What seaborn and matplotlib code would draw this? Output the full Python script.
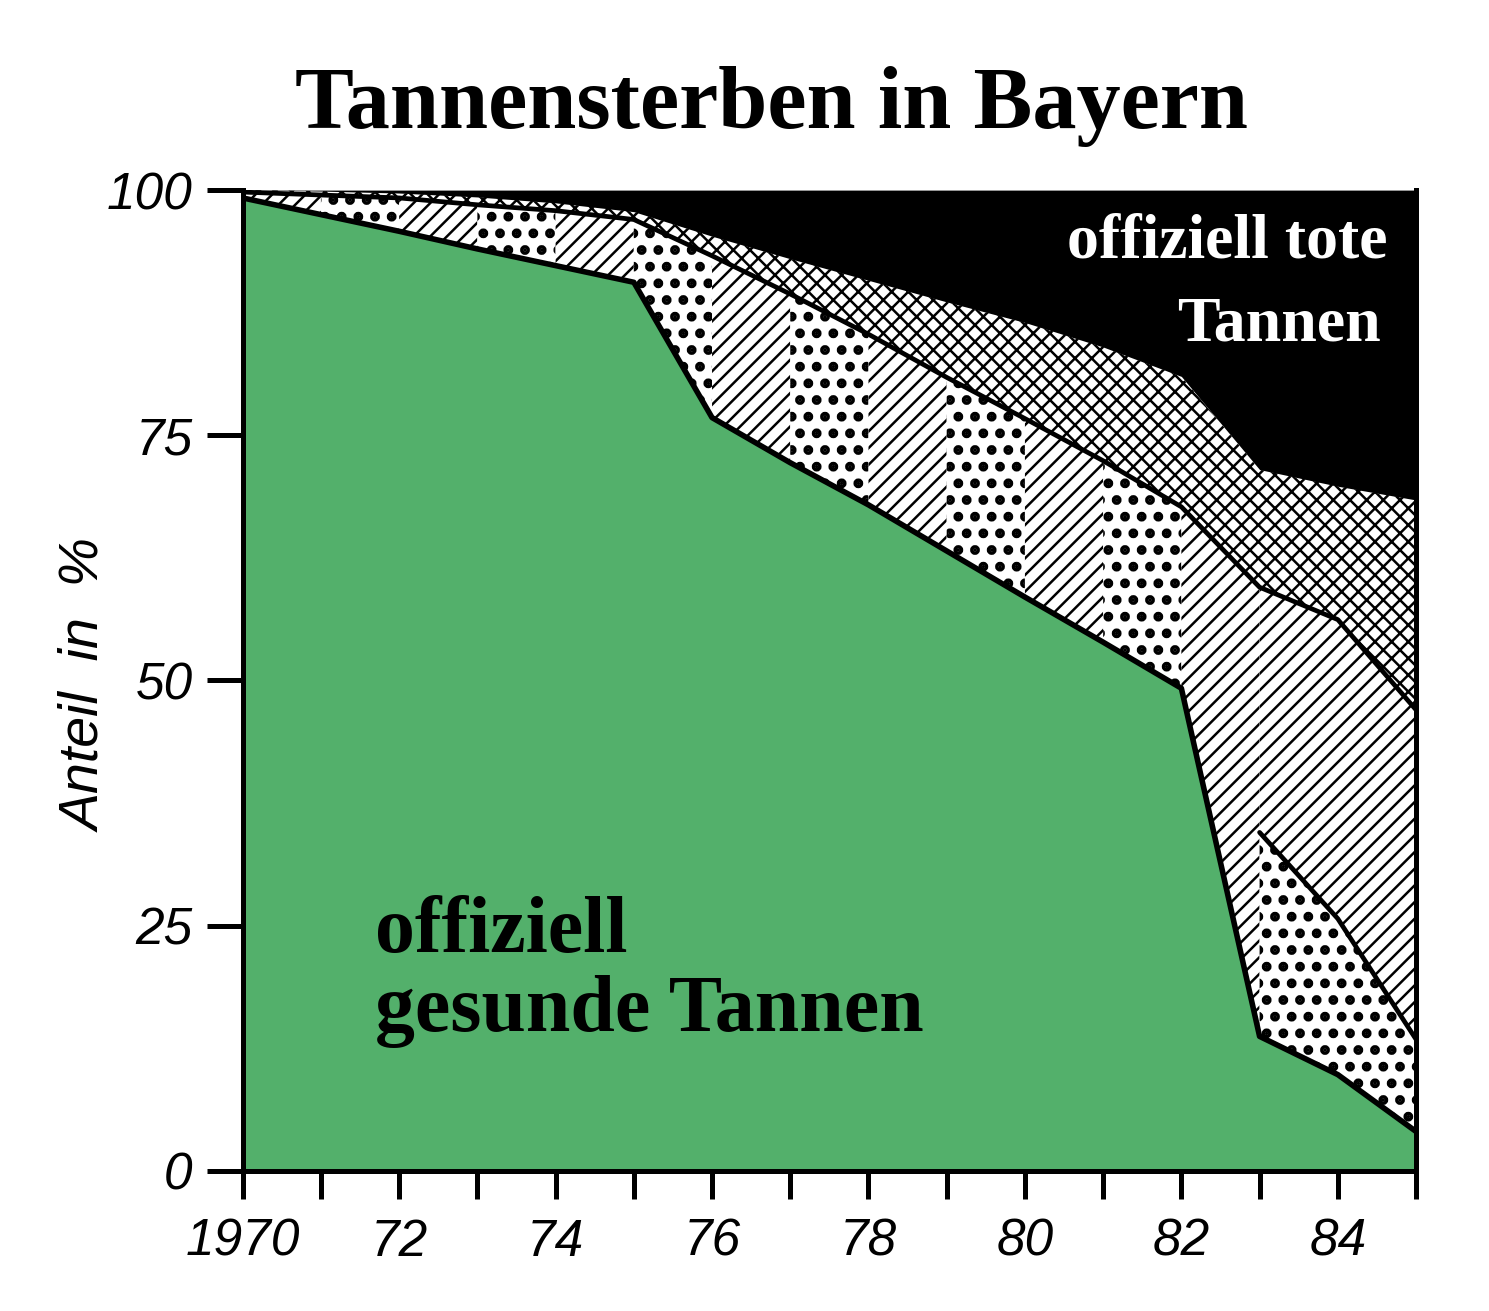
import matplotlib
matplotlib.use("Agg")
import matplotlib.pyplot as plt
import seaborn as sns

# ---------------- data ----------------
jahre = [1970, 1971, 1972, 1973, 1974, 1975, 1976, 1977,
         1978, 1979, 1980, 1981, 1982, 1983, 1984, 1985]
# upper edge of "offiziell gesunde Tannen" (%)
gesund = [99.2, 97.5, 95.8, 94.0, 92.3, 90.6, 76.8, 72.2,
          67.9, 63.2, 58.5, 53.9, 49.2, 13.7, 9.8, 4.0]
# upper edge of the dotted / hatched damage band (%)
geschaedigt = [99.8, 99.5, 99.2, 98.5, 97.9, 97.0, 93.3, 89.4,
               85.3, 80.9, 76.7, 72.4, 67.7, 59.5, 56.2, 47.0]
# lower edge of "offiziell tote Tannen" (%)
tot_grenze = [100.0, 99.9, 99.7, 99.3, 98.7, 97.8, 95.3, 93.0,
              90.8, 88.6, 86.5, 84.0, 81.0, 71.5, 69.8, 68.4]
# split line inside the damage band from 1983 on (%)
split_jahre = [1983, 1984, 1985]
schwach = [34.5, 25.7, 13.4]

x_ticks = list(range(1970, 1986))
x_labels = ["1970", "", "72", "", "74", "", "76", "", "78", "", "80", "",
            "82", "", "84", ""]
y_ticks = [0, 25, 50, 75, 100]
y_labels = ["0", "25", "50", "75", "100"]

title = "Tannensterben in Bayern"
txt_tot = ["offiziell tote", "Tannen"]
txt_gesund = ["offiziell", "gesunde Tannen"]
ylabel = "Anteil  in  %"

# ---------------- style ----------------
sns.set_theme(style="white")
plt.rcParams["font.family"] = ["Liberation Sans", "DejaVu Sans"]
plt.rcParams["hatch.color"] = "black"

GREEN = "#53B06B"
HATCH_LW = {"//": 1.8, ".": 4.6, "xx": 1.8}

fig = plt.figure(figsize=(14.89, 13.11), dpi=100)
ax = fig.add_axes([0.163, 0.107, 0.788, 0.748])


def hatched_fill(x, y1, y2, hatch):
    lw = HATCH_LW[hatch]
    plt.rcParams["hatch.linewidth"] = lw
    coll = ax.fill_between(x, y1, y2, facecolor="white", edgecolor="black",
                           hatch=hatch, linewidth=0, zorder=2)
    if hasattr(coll, "set_hatch_linewidth"):
        coll.set_hatch_linewidth(lw)
    orig = coll.draw

    def draw(renderer, _orig=orig, _lw=lw):
        with matplotlib.rc_context({"hatch.linewidth": _lw}):
            _orig(renderer)

    coll.draw = draw
    return coll


# healthy area
ax.fill_between(jahre, 0, gesund, color=GREEN, linewidth=0, zorder=2)

# alternating yearly stripes of the damage band (1970-1983)
n_split = jahre.index(split_jahre[0])
for i in range(n_split):
    h = "//" if i % 2 == 0 else "."
    hatched_fill(jahre[i:i + 2], gesund[i:i + 2], geschaedigt[i:i + 2], h)

# 1983-1985: dotted below the split line, hatched above
hatched_fill(split_jahre, gesund[n_split:], schwach, ".")
hatched_fill(split_jahre, schwach, geschaedigt[n_split:], "//")

# cross-hatched band
hatched_fill(jahre, geschaedigt, tot_grenze, "xx")

# dead trees (black)
ax.fill_between(jahre, tot_grenze, 100, color="black", linewidth=0, zorder=2)

# boundary lines
sns.lineplot(x=jahre, y=gesund, color="black", linewidth=4.0, ax=ax,
             zorder=4, legend=False)
sns.lineplot(x=jahre, y=geschaedigt, color="black", linewidth=3.4, ax=ax,
             zorder=4, legend=False)
sns.lineplot(x=split_jahre, y=schwach, color="black", linewidth=3.4, ax=ax,
             zorder=4, legend=False)

# axes
ax.set_xlim(1970, 1985)
ax.set_ylim(0, 100)
ax.set_facecolor("white")
for side in ["left", "bottom", "right"]:
    ax.spines[side].set_visible(True)
    ax.spines[side].set_linewidth(3.6)
    ax.spines[side].set_color("black")
    ax.spines[side].set_zorder(5)
ax.spines["top"].set_visible(False)

tick_font = ["Liberation Sans", "DejaVu Sans"]
ax.set_xticks(x_ticks)
ax.set_xticklabels(x_labels)
ax.set_yticks(y_ticks)
ax.set_yticklabels(y_labels)
ax.tick_params(axis="x", direction="out", length=20, width=3.6, pad=14,
               labelsize=37, colors="black", bottom=True)
ax.tick_params(axis="y", direction="out", length=26, width=3.6, pad=10,
               labelsize=37, colors="black", left=True)
for lab in ax.get_xticklabels() + ax.get_yticklabels():
    lab.set_fontstyle("italic")
    lab.set_family(tick_font)

ax.set_xlabel("")
ax.set_ylabel(ylabel, fontsize=40, fontstyle="italic", color="black",
              family=tick_font)
ax.yaxis.set_label_coords(-0.111, 0.495)
ax.grid(False)

# texts
serif = ["Liberation Serif", "DejaVu Serif"]
fig.text(0.518, 0.902, title, ha="center", va="baseline", fontsize=63.5,
         fontweight="bold", family=serif, color="black")
ax.text(0.976, 0.931, txt_tot[0], transform=ax.transAxes, ha="right",
        va="baseline", fontsize=46, fontweight="bold", family=serif,
        color="white", zorder=6)
ax.text(0.970, 0.847, txt_tot[1], transform=ax.transAxes, ha="right",
        va="baseline", fontsize=46, fontweight="bold", family=serif,
        color="white", zorder=6)
ax.text(0.1125, 0.223, txt_gesund[0], transform=ax.transAxes, ha="left",
        va="baseline", fontsize=57.5, fontweight="bold", family=serif,
        color="black", zorder=6)
ax.text(0.1125, 0.142, txt_gesund[1], transform=ax.transAxes, ha="left",
        va="baseline", fontsize=57.5, fontweight="bold", family=serif,
        color="black", zorder=6)

fig.savefig("out.png", dpi=100, facecolor="white")
